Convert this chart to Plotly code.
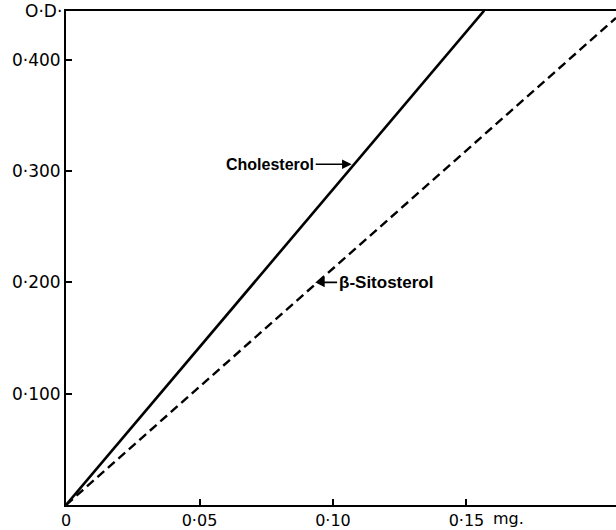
import plotly.graph_objects as go

# Data
chol_x = [0.0, 0.1566]
chol_y = [0.0, 0.444]
sito_x = [0.0, 0.206]
sito_y = [0.0, 0.4375]

x_tickvals = [0, 0.05, 0.10, 0.15]
x_ticktext = ["0", "0·05", "0·10", "0·15"]
y_tickvals = [0.1, 0.2, 0.3, 0.4]
y_ticktext = ["0·100", "0·200", "0·300", "0·400"]

fig = go.Figure()
fig.add_trace(go.Scatter(x=chol_x, y=chol_y, mode="lines",
                         line=dict(color="black", width=2.6), name="Cholesterol"))
fig.add_trace(go.Scatter(x=sito_x, y=sito_y, mode="lines",
                         line=dict(color="black", width=2.4, dash="9px,5px"), name="β-Sitosterol"))

tickfont = dict(family="DejaVu Sans", size=17, color="black")
xtickfont = dict(family="DejaVu Sans", size=16, color="black")
fig.update_xaxes(range=[0, 0.206], tickvals=x_tickvals, ticktext=x_ticktext,
                 showline=True, linecolor="black", linewidth=2, mirror=True,
                 ticks="inside", ticklen=6, tickwidth=1.5, tickcolor="black",
                 showgrid=False, zeroline=False, tickfont=xtickfont)
fig.update_yaxes(range=[0, 0.4437], tickvals=y_tickvals, ticktext=y_ticktext,
                 showline=True, linecolor="black", linewidth=2,
                 ticks="inside", ticklen=6, tickwidth=1.5, tickcolor="black",
                 showgrid=False, zeroline=False, tickfont=tickfont)

fig.add_annotation(x=0.107, y=0.306, ax=-36, ay=0, text="<b>Cholesterol</b>",
                   showarrow=True, arrowhead=2, arrowsize=1.2, arrowwidth=1.6,
                   arrowcolor="black", xanchor="right",
                   font=dict(family="Liberation Sans", size=16, color="black"))
fig.add_annotation(x=0.0933, y=0.2, ax=22, ay=0, text="<b>β-Sitosterol</b>",
                   showarrow=True, arrowhead=2, arrowsize=1.2, arrowwidth=1.6,
                   arrowcolor="black", xanchor="left",
                   font=dict(family="Liberation Sans", size=17, color="black"))
fig.add_annotation(xref="paper", yref="paper", x=0, y=1, xshift=-2,
                   text="O·D·", showarrow=False, xanchor="right", yanchor="middle",
                   font=tickfont)
fig.add_annotation(x=0.15, y=0, yref="paper", yshift=-13, xshift=25,
                   text="mg.", showarrow=False, xanchor="left", yanchor="middle",
                   font=xtickfont)

fig.update_layout(width=616, height=530, margin=dict(l=66, r=0, t=11, b=22),
                  paper_bgcolor="white", plot_bgcolor="white", showlegend=False)
fig.write_html("out.html")
